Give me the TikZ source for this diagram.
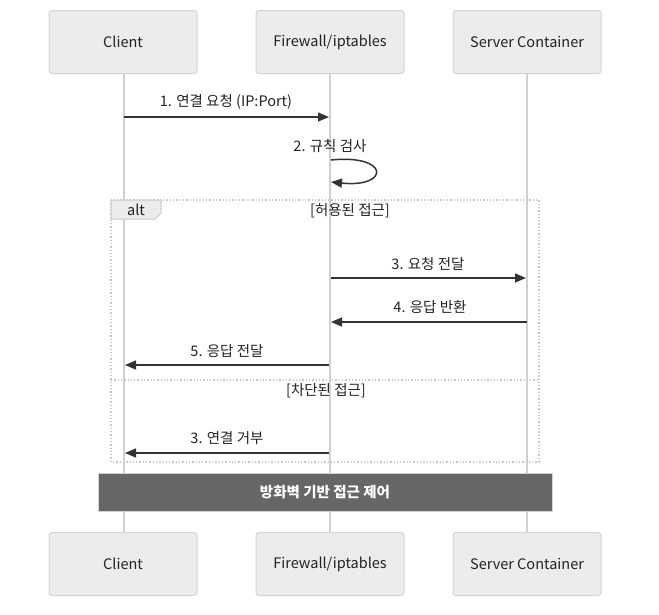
\documentclass[tikz,border=0pt]{standalone}
\usepackage{fontspec}
\setmainfont{Noto Sans CJK KR}
\usetikzlibrary{arrows.meta}
\definecolor{actorfill}{HTML}{ECECEC}
\definecolor{actorline}{HTML}{D4D4D4}
\definecolor{lifeline}{HTML}{D0D0D0}
\definecolor{msgline}{HTML}{333333}
\definecolor{framec}{HTML}{C8C8C8}
\definecolor{notefill}{HTML}{666666}
\definecolor{txt}{HTML}{222222}
\tikzset{
  actor/.style={draw=actorline, fill=actorfill, rounded corners=3pt, line width=1pt,
    minimum width=148pt, minimum height=63pt, inner sep=0pt,
    font=\fontsize{14.5}{16}\selectfont, text=txt},
  life/.style={draw=lifeline, line width=2pt},
  msg/.style={draw=msgline, line width=1.5pt, -{Triangle[length=11pt,width=9pt]}},
  msglabel/.style={font=\fontsize{14.5}{16}\selectfont, text=txt, inner sep=0pt},
  frame/.style={draw=framec, line width=1.3pt, dotted},
}
\begin{document}
\begin{tikzpicture}[x=1pt,y=-1pt]
\useasboundingbox (0,0) rectangle (659,614);
% lifelines
\draw[life] (124,73) -- (124,532);
\draw[life] (330,73) -- (330,532);
\draw[life] (527,73) -- (527,532);
% participants
\node[actor] (clientT) at (123,42) {Client};
\node[actor] (fwT) at (330,42) {Firewall/iptables};
\node[actor] (srvT) at (527,42) {Server Container};
\node[actor] (clientB) at (123,564) {Client};
\node[actor] (fwB) at (330,564) {Firewall/iptables};
\node[actor] (srvB) at (527,564) {Server Container};
% anchor points on the lifelines
\coordinate (c1) at (124,117); \coordinate (f1) at (329,117);
\coordinate (f2a) at (331,160); \coordinate (f2b) at (331,182);
\coordinate (f3) at (331,278); \coordinate (s3) at (526,278);
\coordinate (s4) at (527,322); \coordinate (f4) at (331,322);
\coordinate (f5) at (329,365); \coordinate (c5) at (125,365);
\coordinate (f6) at (329,453); \coordinate (c6) at (125,453);
% alt frame
\draw[frame] (111,200) rectangle (539,462);
\draw[frame] (111,380) -- (539,380);
\draw[draw=framec, fill=actorfill, line width=1pt] (111,200) -- (161,200) -- (161,213) -- (155,219) -- (111,219) -- cycle;
\node[msglabel] (altlbl) at (136,210) {alt};
\node[msglabel] (cond1) at (350,211) {[허용된 접근]};
\node[msglabel] (cond2) at (326,391) {[차단된 접근]};
% messages
\draw[msg] (c1) -- (f1);
\node[msglabel] (m1) at (226,102) {1. 연결 요청 (IP:Port)};
\node[msglabel] (m2) at (330,146) {2. 규칙 검사};
\draw[msg] (f2a) .. controls (390,154) and (390,188) .. (f2b);
\draw[msg] (f3) -- (s3);
\node[msglabel] (m3) at (428,264) {3. 요청 전달};
\draw[msg] (s4) -- (f4);
\node[msglabel] (m4) at (430,307) {4. 응답 반환};
\draw[msg] (f5) -- (c5);
\node[msglabel] (m5) at (227,351) {5. 응답 전달};
\draw[msg] (f6) -- (c6);
\node[msglabel] (m6) at (227,438) {3. 연결 거부};
% note
\node[draw=actorline, fill=notefill, line width=1pt, minimum width=454pt, minimum height=38pt,
  inner sep=0pt, text=white, font=\fontsize{14.5}{16}\selectfont\bfseries] (note) at (325,492) {방화벽 기반 접근 제어};
\end{tikzpicture}
\end{document}
